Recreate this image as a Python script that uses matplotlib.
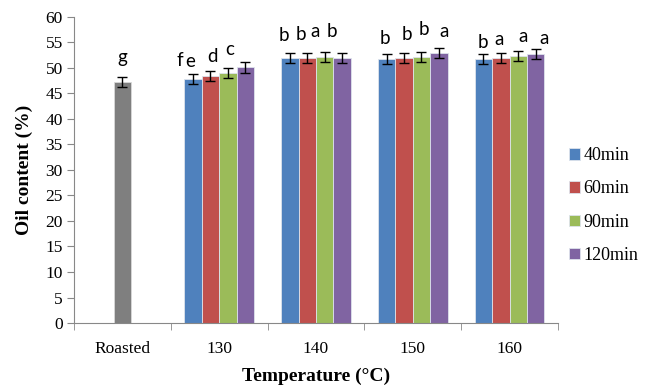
import matplotlib
matplotlib.use("Agg")
import matplotlib.pyplot as plt
import numpy as np

categories = ["Roasted", "130", "140", "150", "160"]
series = ["40min", "60min", "90min", "120min"]
roasted_value = 47.3
roasted_err = 1.0
roasted_letter = "g"
v40 = [47.8, 51.9, 51.8, 51.8]
v60 = [48.4, 52.0, 52.0, 51.9]
v90 = [49.0, 52.1, 52.2, 52.4]
v120 = [50.1, 52.0, 53.0, 52.8]
err40 = [1.0, 1.0, 1.0, 1.0]
err60 = [1.0, 1.0, 1.0, 1.0]
err90 = [1.0, 1.0, 1.0, 1.0]
err120 = [1.0, 1.0, 1.0, 1.0]
let40 = ["f", "b", "b", "b"]
let60 = ["e", "b", "b", "a"]
let90 = ["d", "a", "b", "a"]
let120 = ["c", "b", "a", "a"]
yticks = list(range(0, 65, 5))

# label placement nudges (pixels), styling only
roasted_nudge = (0, 14)
nudge_dx = [[-13, -6, -2, -1], [-20, -6, 3, -2], [-15, -10, 2, 5], [-16, -10, 5, 8]]
nudge_dy = [[8, 12, 10, 6], [4, 13, 13, 8], [6, 15, 17, 9], [7, 16, 11, 5]]

colors = ["#4F81BD", "#C0504D", "#9BBB59", "#8064A2"]
serif = "Liberation Serif"
sans = "Lato"

fig = plt.figure(figsize=(6.45, 3.85), dpi=100)
ax = fig.add_axes([0.1147, 0.161, 0.7503, 0.795])

bw = 0.18
ax.bar(0, roasted_value, width=bw, color="#7F7F7F", edgecolor="#D9D9D9", linewidth=0.6)
ax.errorbar(0, roasted_value, yerr=roasted_err, fmt="none", ecolor="black", elinewidth=1.0, capsize=3.5, capthick=1.0)
ax.annotate(roasted_letter, xy=(0, roasted_value + roasted_err), xytext=roasted_nudge,
            textcoords="offset pixels", ha="center", va="baseline", fontsize=13.5, family=sans)

xs = np.arange(1, 5)
vals = [v40, v60, v90, v120]
errs = [err40, err60, err90, err120]
lets = [let40, let60, let90, let120]
offsets = [-1.5, -0.5, 0.5, 1.5]
for i in range(4):
    x = xs + offsets[i] * bw
    ax.bar(x, vals[i], width=bw, color=colors[i], edgecolor="#DDE3EC", linewidth=0.6, label=series[i])
    ax.errorbar(x, vals[i], yerr=errs[i], fmt="none", ecolor="black", elinewidth=1.0, capsize=3.5, capthick=1.0)
    for j, (xi, v, e, l) in enumerate(zip(x, vals[i], errs[i], lets[i])):
        ax.annotate(l, xy=(xi, v + e), xytext=(nudge_dx[i][j], nudge_dy[i][j]),
                    textcoords="offset pixels", ha="center", va="baseline", fontsize=13.5, family=sans)

ax.set_xlim(-0.5, 4.5)
ax.set_ylim(0, 60)
ax.set_yticks(yticks)
ax.set_yticklabels([str(t) for t in yticks], family=serif, fontsize=12.5)
ax.set_xticks(range(5))
ax.set_xticklabels(categories, family=serif, fontsize=12.5)
ax.set_xticks(np.arange(-0.5, 5, 1), minor=True)
ax.tick_params(axis="x", which="major", length=0, pad=13)
ax.tick_params(axis="x", which="minor", length=5, color="#888888", direction="out")
ax.tick_params(axis="y", length=5, color="#888888", direction="out", pad=3)
for s in ["top", "right"]:
    ax.spines[s].set_visible(False)
for s in ["left", "bottom"]:
    ax.spines[s].set_color("#888888")
ax.set_ylabel("Oil content (%)", family=serif, fontsize=14, fontweight="bold", labelpad=9)
ax.set_xlabel("Temperature (°C)", family=serif, fontsize=14, fontweight="bold", labelpad=8)

leg = fig.legend(loc="center left", bbox_to_anchor=(0.871, 0.466), frameon=False,
                 prop={"family": serif, "size": 13}, handlelength=0.6, handleheight=0.6,
                 handletextpad=0.2, labelspacing=0.9, borderaxespad=0)

fig.savefig("out.png", dpi=100)
